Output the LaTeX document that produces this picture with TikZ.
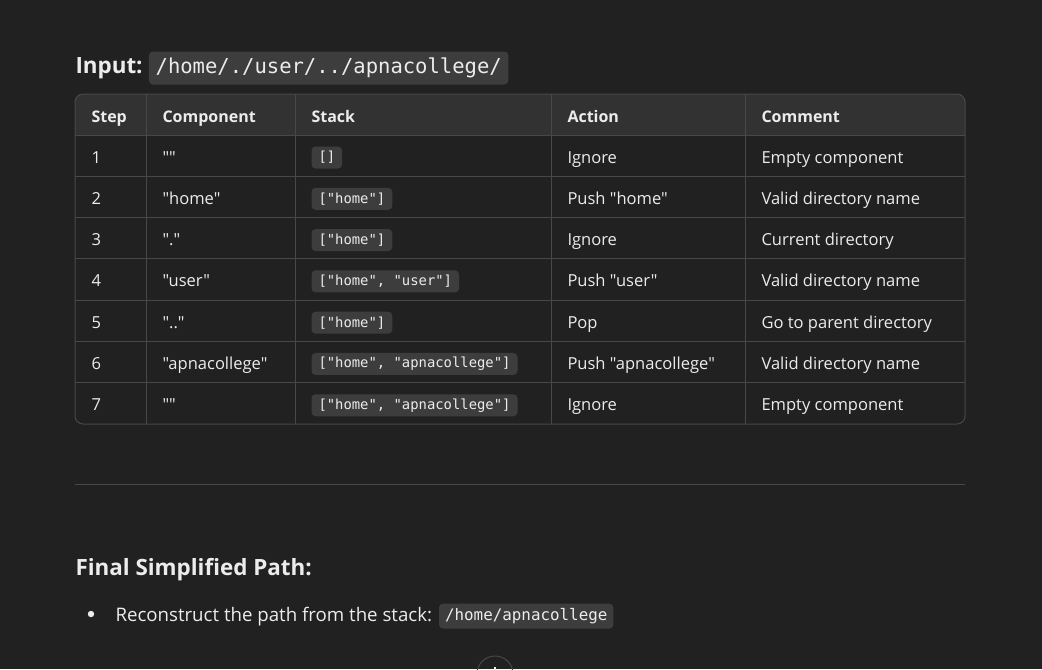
\documentclass[tikz,border=0pt]{standalone}
\usepackage{fontspec}
\setmainfont{Open Sans}[Ligatures=TeXOff]
\setmonofont{DejaVu Sans Mono}
\usetikzlibrary{positioning}
\definecolor{pagebg}{HTML}{212121}
\definecolor{headbg}{HTML}{323232}
\definecolor{gridline}{HTML}{484848}
\definecolor{codebg}{HTML}{3D3D3D}
\definecolor{inktext}{HTML}{ECECEC}
\tikzset{
  cell/.style={anchor=base west, inner sep=0pt, text=inktext, font=\fontsize{12.4}{14}\selectfont},
  headcell/.style={cell, font=\fontsize{12}{14}\selectfont\bfseries},
  bigtitle/.style={anchor=base west, inner sep=0pt, text=inktext, font=\fontsize{16.8}{20}\selectfont\bfseries},
  codechip/.style={anchor=west, fill=codebg, rounded corners=3pt, inner xsep=5.25pt, inner ysep=0pt,
    minimum height=16.5pt, text=inktext, font=\ttfamily\fontsize{10.4}{12}\selectfont},
}

\begin{document}
\begin{tikzpicture}[x=0.75pt,y=-0.75pt,line width=0.75pt]
	\fill[pagebg] (0,0) rectangle (1042,669);
	\useasboundingbox (0,0) rectangle (1042,669);
	% heading with input path
	\node[bigtitle] (inp) at (75,73.3) {Input:};
	\node[codechip, right=4pt of inp, minimum height=24.75pt, inner xsep=5pt,
		font=\ttfamily\fontsize{15.4}{18}\selectfont] (inpath) {/home/./user/../apnacollege/};
	% table frame
	\begin{scope}
		\clip[rounded corners=6pt] (75,94) rectangle (965,424);
		\fill[headbg] (75,94) rectangle (965,135);
	\end{scope}
	\draw[gridline, rounded corners=6pt] (75,94) rectangle (965,424);
	\foreach \k in {0,...,6}
		\draw[gridline] (75,{135+41.29*\k}) -- (965,{135+41.29*\k});
	\foreach \cx in {146,295,551,745}
		\draw[gridline] (\cx,94) -- (\cx,424);
	% header
	\node[headcell] (hstep) at (91,122) {Step};
	\node[headcell] (hcomp) at (162,122) {Component};
	\node[headcell] (hstk) at (311,122) {Stack};
	\node[headcell] (hact) at (567,122) {Action};
	\node[headcell] (hcmt) at (761,122) {Comment};
	% rows
	\foreach \i/\comp/\stk/\act/\cmt in {
		1/""/{[]}/Ignore/Empty component,
		2/"home"/{["home"]}/Push "home"/Valid directory name,
		3/"."/{["home"]}/Ignore/Current directory,
		4/"user"/{["home", "user"]}/Push "user"/Valid directory name,
		5/".."/{["home"]}/Pop/Go to parent directory,
		6/"apnacollege"/{["home", "apnacollege"]}/Push "apnacollege"/Valid directory name,
		7/""/{["home", "apnacollege"]}/Ignore/Empty component}
	{
		\node[cell] (step\i) at (91,{163+41.29*(\i-1)}) {\i};
		\node[cell] (comp\i) at (162,{163+41.29*(\i-1)}) {\comp};
		\node[codechip] (stk\i) at (311,{157.5+41.29*(\i-1)}) {\stk};
		\node[cell] (act\i) at (567,{163+41.29*(\i-1)}) {\act};
		\node[cell] (cmt\i) at (761,{163+41.29*(\i-1)}) {\cmt};
	}
	% separator
	\draw[gridline] (75,484) -- (965,484);
	% result
	\node[bigtitle] (final) at (75,575) {Final Simplified Path:};
	\fill[inktext] (91,614) circle (2.4pt);
	\node[cell, font=\fontsize{14}{16}\selectfont] (recon) at (115,621) {Reconstruct the path from the stack:};
	\node[codechip, right=4.5pt of recon, minimum height=18.75pt, inner xsep=4.5pt,
		font=\ttfamily\fontsize{11.9}{14}\selectfont] (outpath) {/home/apnacollege};
	% scroll button, cut by the page edge
	\draw[gridline] (495,674) circle (13.5pt);
	\draw[inktext, line width=1pt] (495,667) -- (495,680);
\end{tikzpicture}
\end{document}
